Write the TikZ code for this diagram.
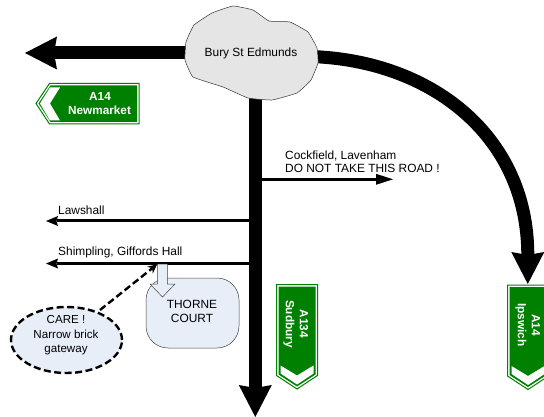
\documentclass[tikz,border=0pt]{standalone}
\usepackage{fontspec}
\setmainfont{Liberation Sans}
\usetikzlibrary{arrows.meta,shapes.geometric}
\definecolor{signgreen}{HTML}{008000}
\definecolor{softblue}{HTML}{E8EEF8}
\definecolor{blobgrey}{HTML}{E5E5E5}
\tikzset{
  label text/.style={font=\fontsize{11.9}{13.5}\selectfont,inner sep=0pt,align=center},
  left text/.style={label text,anchor=west,align=left},
  sign text/.style={font=\fontsize{11.8}{13.5}\selectfont\bfseries,text=white,inner sep=0pt},
  major road/.style={line width=13pt,-{Stealth[length=32pt,width=33pt,inset=3pt,line width=0pt]}},
  minor road/.style={line width=3pt,-{Stealth[length=12pt,width=10pt,inset=1.5pt,line width=0pt]}},
  side road/.style={line width=3pt,-{Triangle[length=17pt,width=11pt,line width=0pt]}},
  soft/.style={fill=softblue,draw=black!75,line width=.5pt},
  warning/.style={line width=2.4pt,dash pattern=on 7pt off 3.5pt},
  downsign/.pic={
    \filldraw[draw=signgreen,fill=white,line width=1pt,line join=miter]
      (0,0)--(41,0)--(41,91)--(20.5,104.5)--(0,91)--cycle;
    \fill[signgreen] (2,2)--(39,2)--(39,90)--(20.5,102)--(2,90)--cycle;
    \fill[white] (4,81)--(20.5,91)--(37,81)--(37,89)--(20.5,100)--(4,89)--cycle;
  }
}
\begin{document}
\begin{tikzpicture}[x=1pt,y=-1pt]
\useasboundingbox (0,0) rectangle (544,417);
\clip (0,0) rectangle (544,417);
% named anchor points of the roads
\coordinate (westEnd) at (25,53);
\coordinate (westStart) at (200,53);
\coordinate (southStart) at (255.3,90);
\coordinate (southEnd) at (255.3,417);
\coordinate (eastStart) at (310,56.5);
\coordinate (eastEnd) at (527.8,284);
\coordinate (cockStart) at (255,179.3);
\coordinate (cockEnd) at (393,179.3);
\coordinate (lawStart) at (255,221);
\coordinate (lawEnd) at (46,221);
\coordinate (shimStart) at (255,263.5);
\coordinate (shimEnd) at (46,263.5);
\coordinate (gateTurn) at (157,264.5);
% roads
\draw[major road] (westStart) -- (westEnd);
\draw[major road] (southStart) -- (southEnd);
\draw[major road] (eastStart) .. controls (430,60) and (527.8,135) .. (eastEnd);
\draw[side road] (cockStart) -- (cockEnd);
\draw[minor road] (lawStart) -- (lawEnd);
\draw[minor road] (shimStart) -- (shimEnd);
% town
\filldraw[fill=blobgrey,draw=black!80,line width=.5pt]
  plot[smooth cycle,tension=.2] coordinates {
  (233,6) (253,10) (269,21) (290,22) (308,32) (317,48) (318,63) (311,80)
  (297,93) (272,100) (248,98) (223,87) (193,77) (185,60) (186,42) (194,25) (212,13)};
\node[label text] (bury) at (251,53) {Bury St Edmunds};
% Thorne Court
\node[soft,rounded corners=22pt,minimum width=93pt,minimum height=70pt,inner sep=0pt] (court) at (192.5,313) {};
\filldraw[soft,line join=miter] (157.3,264)--(167.3,264)--(167.3,284)--(175,284)--(162.5,297)--(150,284)--(157.3,284)--cycle;
\node[label text] (courtText) at (192,311.5) {THORNE\\COURT};
% care note
\node[ellipse,fill=softblue,draw=black,warning,minimum width=111pt,minimum height=66pt,inner sep=0pt] (care) at (66.5,340) {};
\node[label text,font=\fontsize{11.6}{14.5}\selectfont] (careText) at (66,335.5) {CARE !\\Narrow brick\\gateway};
\draw[warning,-{Stealth[length=9pt,width=9pt,line width=0pt]}] (100,310) -- (gateTurn);
% labels
\node[left text] (cock) at (285,161.5) {Cockfield, Lavenham\\DO NOT TAKE THIS ROAD !};
\node[left text] (law) at (58,210) {Lawshall};
\node[left text] (shim) at (58,252) {Shimpling, Gifford{}s Hall};
% A14 Newmarket sign
\filldraw[draw=signgreen,fill=white,line width=1pt,line join=miter] (36,103.5)--(49.5,83.5)--(139,83.5)--(139,124)--(49.5,124)--cycle;
\fill[signgreen] (38.5,103.5)--(50.5,85.5)--(137,85.5)--(137,122)--(50.5,122)--cycle;
\fill[white] (40,103.5)--(50,87.5)--(60,87.5)--(50,103.5)--(60,120.5)--(50,120.5)--cycle;
\node[sign text] (nmA) at (100,96) {A14};
\node[sign text] (nmB) at (99.5,110) {Newmarket};
% A134 Sudbury sign
\pic at (276.5,284.5) {downsign};
\node[sign text,rotate=-90] (sdA) at (304,324) {A134};
\node[sign text,rotate=-90] (sdB) at (289,324) {Sudbury};
% A14 Ipswich sign
\pic at (507.5,285) {downsign};
\node[sign text,rotate=-90] (ipA) at (536,325) {A14};
\node[sign text,rotate=-90] (ipB) at (521,325) {Ipswich};
\end{tikzpicture}
\end{document}
